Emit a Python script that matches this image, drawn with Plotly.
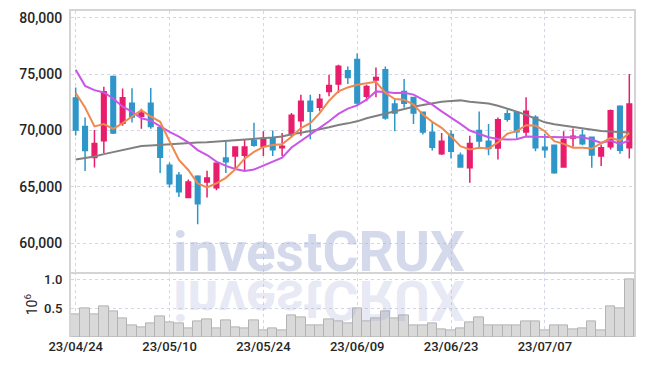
import plotly.graph_objects as go
from plotly.subplots import make_subplots

# ---------------- data ----------------
dates = ["23/04/24", "23/04/25", "23/04/26", "23/04/27", "23/04/28", "23/05/02", "23/05/03", "23/05/04",
         "23/05/08", "23/05/09", "23/05/10", "23/05/11", "23/05/12", "23/05/15", "23/05/16", "23/05/17",
         "23/05/18", "23/05/19", "23/05/22", "23/05/23", "23/05/24", "23/05/25", "23/05/26", "23/05/30",
         "23/05/31", "23/06/01", "23/06/02", "23/06/05", "23/06/07", "23/06/08", "23/06/09", "23/06/12",
         "23/06/13", "23/06/14", "23/06/15", "23/06/16", "23/06/19", "23/06/20", "23/06/21", "23/06/22",
         "23/06/23", "23/06/26", "23/06/27", "23/06/28", "23/06/29", "23/06/30", "23/07/03", "23/07/04",
         "23/07/05", "23/07/06", "23/07/07", "23/07/10", "23/07/11", "23/07/12", "23/07/13", "23/07/14",
         "23/07/17", "23/07/18", "23/07/19", "23/07/20"]

opens = [72900, 70350, 67600, 69100, 74800, 70640, 72420, 71260, 72420, 70280,
         66920, 66040, 64050, 65950, 65440, 64920, 67570, 67740, 67800, 69120,
         68580, 69290, 68470, 69650, 70880, 72600, 72060, 73480, 74130, 75310,
         76310, 73040, 74480, 75400, 72360, 73460, 72930, 71620, 69850, 67950,
         69650, 67800, 66690, 70000, 69040, 68460, 71500, 71600, 69880, 71180,
         68525, 68700, 66755, 69350, 69590, 69410, 67730, 68555, 72150, 68470]
highs = [73820, 71150, 70050, 73880, 74900, 73730, 73760, 71930, 73790, 70320,
         67170, 66320, 65650, 66030, 66420, 67100, 69050, 68530, 69200, 70700,
         69940, 70000, 69790, 71560, 73190, 73190, 73240, 74960, 75840, 75690,
         76840, 74070, 75600, 75690, 72890, 74580, 72950, 71650, 70770, 69790,
         70000, 68050, 69530, 71700, 70590, 71170, 71880, 71620, 72950, 71360,
         69700, 68700, 69940, 70180, 70090, 69410, 68760, 71860, 72240, 75015]
lows = [69560, 66400, 66720, 68000, 69700, 70420, 70720, 70160, 70150, 66240,
        64950, 64100, 64030, 61680, 64050, 64690, 66240, 66500, 66450, 68570,
        67730, 67730, 67730, 69410, 69530, 69230, 71710, 73040, 73330, 74130,
        72150, 72600, 72950, 70970, 69940, 72030, 70580, 69650, 68230, 67820,
        67520, 66760, 65360, 68530, 67800, 67420, 70780, 69300, 69500, 68170,
        67580, 66165, 66755, 68555, 68700, 66700, 66850, 68320, 67935, 67520]
closes = [70050, 68220, 68840, 73450, 69780, 72920, 71210, 71550, 70370, 67640,
          65270, 64570, 65430, 63510, 65780, 67090, 67220, 68530, 68530, 68690,
          69290, 68290, 68610, 71360, 72600, 71710, 72770, 74010, 75720, 74720,
          72450, 73920, 74720, 71120, 71560, 72430, 71550, 69880, 68525, 69050,
          68170, 66760, 68840, 69070, 68415, 70960, 71000, 69900, 71710, 68470,
          68290, 66250, 69200, 69500, 68820, 67820, 68470, 71770, 68260, 72360]

volumes = [400000, 500000, 400000, 540000, 450000, 330000, 195000, 170000, 240000, 360000,
           260000, 230000, 155000, 275000, 310000, 155000, 290000, 170000, 155000, 290000,
           110000, 155000, 120000, 380000, 345000, 195000, 195000, 310000, 280000, 230000,
           500000, 280000, 330000, 450000, 330000, 385000, 195000, 210000, 230000, 126000,
           120000, 145000, 247000, 345000, 195000, 195000, 210000, 195000, 275000, 275000,
           110000, 195000, 195000, 126000, 145000, 275000, 120000, 540000, 490000, 1010000]

ma5 = [73340, 72050, 70370, 70580, 70150, 70660, 71250, 71810, 71250, 70780,
       69050, 67400, 66500, 65300, 64950, 65320, 65800, 66550, 67500, 68100,
       68550, 68720, 68780, 69450, 70220, 70660, 71540, 72650, 73480, 73830,
       74070, 74220, 74330, 73350, 72800, 72740, 72300, 71420, 70770, 70240,
       69480, 68610, 68330, 68470, 68400, 68950, 69720, 69950, 70470, 70440,
       69940, 69060, 68820, 68470, 68470, 68400, 68910, 69350, 69115, 69770]
ma10 = [75410, 73970, 73590, 73380, 72850, 72120, 71680, 71090, 70880, 70380,
        69880, 69470, 68950, 68270, 67830, 67240, 66860, 66580, 66420, 66540,
        66880, 67260, 67600, 68500, 69060, 69650, 70240, 70830, 71480, 71950,
        72240, 72740, 73480, 73420, 73330, 73360, 73190, 72740, 72300, 71710,
        71180, 70590, 70000, 69700, 69410, 69260, 69200, 69230, 69470, 69440,
        69410, 69410, 69410, 69410, 69410, 69200, 68910, 69115, 68820, 69115]
ma_long = [67430, 67560, 67700, 67910, 68090, 68300, 68500, 68620, 68680, 68740,
           68790, 68830, 68880, 68940, 68970, 69030, 69090, 69120, 69180, 69230,
           69270, 69380, 69470, 69680, 69800, 69930, 70110, 70290, 70500, 70640,
           70820, 71090, 71300, 71500, 71680, 71930, 72120, 72270, 72410, 72560,
           72620, 72680, 72560, 72500, 72410, 72210, 71970, 71680, 71390, 71030,
           70730, 70560, 70440, 70350, 70260, 70110, 69970, 69910, 69850, 69820]

x_tick_labels = ["23/04/24", "23/05/10", "23/05/24", "23/06/09", "23/06/23", "23/07/07"]
price_ticks = [60000, 65000, 70000, 75000, 80000]
vol_ticks = [0.5, 1.0]
vol_tick_text = ["0.5", "1.0"]

# ---------------- styles ----------------
UP = "#e81d6b"
DOWN = "#2f96c9"
GRID = "#d3d5e8"
BORDER = "#d4d4d4"
FONT = "Roboto, Arial, sans-serif"
TICKCOL = "#262626"

fig = make_subplots(rows=2, cols=1, shared_xaxes=True, vertical_spacing=0,
                    row_heights=[0.8018, 0.1982])

fig.add_trace(go.Candlestick(
    x=dates, open=opens, high=highs, low=lows, close=closes,
    increasing=dict(line=dict(color=UP, width=1.5), fillcolor=UP),
    decreasing=dict(line=dict(color=DOWN, width=1.5), fillcolor=DOWN),
    showlegend=False, hoverinfo="skip"), row=1, col=1)

fig.add_trace(go.Scatter(x=dates, y=ma_long, mode="lines",
                         line=dict(color="#808080", width=2), showlegend=False), row=1, col=1)
fig.add_trace(go.Scatter(x=dates, y=ma10, mode="lines",
                         line=dict(color="#c956e6", width=2), showlegend=False), row=1, col=1)
fig.add_trace(go.Scatter(x=dates, y=ma5, mode="lines",
                         line=dict(color="#ef8a4e", width=2), showlegend=False), row=1, col=1)

fig.add_trace(go.Bar(x=dates, y=[v / 1e6 for v in volumes],
                     marker=dict(color="#d9d9d9", line=dict(color="#b3b3b3", width=1)),
                     showlegend=False), row=2, col=1)

xcommon = dict(type="category", range=[-0.5, 59.5], showgrid=True, gridcolor=GRID,
               griddash="dot", gridwidth=1, tickmode="array", tickvals=x_tick_labels,
               ticktext=x_tick_labels, zeroline=False)

fig.update_xaxes(**xcommon)
fig.update_layout(
    xaxis=dict(showticklabels=False, showline=True, linecolor=BORDER, linewidth=1.5,
               mirror=True, rangeslider=dict(visible=False)),
    xaxis2=dict(showticklabels=True, showline=False, ticks="",
                tickfont=dict(family=FONT, size=13, color=TICKCOL, weight=500)),
    yaxis=dict(range=[57405, 80618], tickmode="array", tickvals=price_ticks,
               tickformat=",d", showgrid=True, gridcolor=GRID, griddash="dot",
               showline=True, linecolor=BORDER, linewidth=2, mirror=True,
               zeroline=False, ticks="", ticklabelstandoff=4,
               tickfont=dict(family=FONT, size=14, color=TICKCOL, weight=500)),
    yaxis2=dict(range=[0, 1.125], tickmode="array", tickvals=vol_ticks, ticktext=vol_tick_text,
                showgrid=True, gridcolor=GRID, griddash="dot",
                showline=True, linecolor=BORDER, linewidth=2, mirror=True,
                zeroline=False, ticks="", ticklabelstandoff=4,
                tickfont=dict(family=FONT, size=13, color=TICKCOL, weight=500),
                title=dict(text="10<sup>6</sup>", standoff=3,
                           font=dict(family=FONT, size=14, color=TICKCOL))),
    width=645, height=366,
    margin=dict(l=71, r=9, t=9, b=29),
    paper_bgcolor="white", plot_bgcolor="white",
    bargap=0, showlegend=False,
    annotations=[
        dict(text="investCRUX", xref="paper", yref="paper", x=0.4407, y=0.262,
             xanchor="center", yanchor="middle", showarrow=False,
             font=dict(family="Roboto, Arial, sans-serif", size=55, weight=700,
                       color="rgba(160,170,212,0.45)")),
        dict(text="investCRUX", xref="paper", yref="paper", x=0.4407, y=0.114,
             xanchor="center", yanchor="middle", showarrow=False,
             font=dict(family="Roboto, Arial, sans-serif", size=55, weight=700,
                       color="rgba(160,170,212,0.27)")),
    ],
)

post = """
document.body.style.margin='0';
var t = document.querySelectorAll('.annotation-text');
if (t.length > 1) {
  var e = t[1];
  e.style.transformBox = 'fill-box';
  e.style.transformOrigin = 'center';
  e.style.transform = 'scaleY(-1)';
}
"""

fig.write_html("out.html", post_script=post, config={"displayModeBar": False})
